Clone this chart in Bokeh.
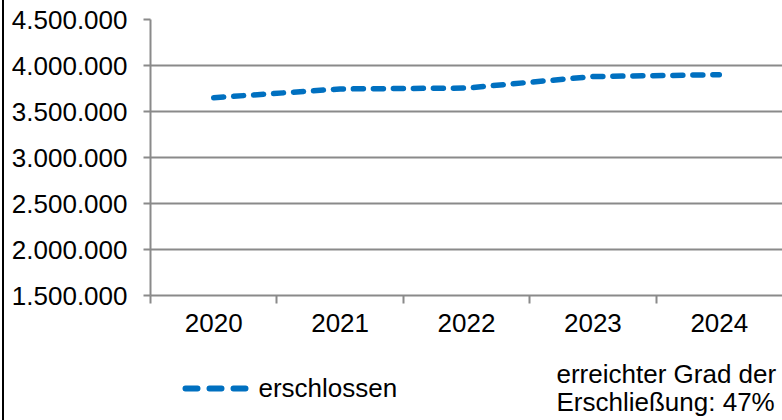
from bokeh.plotting import figure
from bokeh.models import (ColumnDataSource, LinearAxis, FixedTicker, Range1d, Grid, Div, Spacer)
from bokeh.layouts import row, column
from bokeh.core.properties import value
from bokeh.embed import file_html
from bokeh.resources import INLINE

years = ["2020", "2021", "2022", "2023", "2024"]
erschlossen = [3650000, 3745000, 3755000, 3880000, 3900000]
y_ticks = [1500000, 2000000, 2500000, 3000000, 3500000, 4000000, 4500000]
y_labels = ["1.500.000", "2.000.000", "2.500.000", "3.000.000", "3.500.000", "4.000.000", "4.500.000"]
series_name = "erschlossen"
note_lines = ["erreichter Grad der", "Erschließung: 47%"]

FONT = "Liberation Sans"
FS = "26px"
GRID = "#8a8a8a"
BLUE = "#0070C0"
W = 778
LEFT = 146

p = figure(width=W, height=350, x_range=years, y_range=Range1d(y_ticks[0], y_ticks[-1]),
           output_backend="svg", toolbar_location=None, x_axis_type=None, y_axis_type=None,
           min_border_left=LEFT, min_border_right=0, min_border_top=19, min_border_bottom=55)
p.outline_line_color = None
p.background_fill_color = "white"
p.border_fill_color = "white"

src = ColumnDataSource(dict(x=years, y=erschlossen))
r = p.line("x", "y", source=src, line_color=BLUE, line_width=5.5, line_dash="10 10", line_cap="round")

n = len(years)
xaxis = LinearAxis(ticker=FixedTicker(ticks=[i + 0.5 for i in range(n)], minor_ticks=list(range(n))))
xaxis.major_label_overrides = {i + 0.5: years[i] for i in range(n)}
xaxis.major_tick_out = 0
xaxis.major_tick_in = 0
xaxis.minor_tick_out = 8
xaxis.minor_tick_in = 0
xaxis.minor_tick_line_color = GRID
xaxis.minor_tick_line_width = 2
xaxis.axis_line_color = GRID
xaxis.axis_line_width = 2
xaxis.major_label_text_font = FONT
xaxis.major_label_text_font_size = FS
xaxis.major_label_text_color = "black"
xaxis.major_label_standoff = 10
p.add_layout(xaxis, "below")

yaxis = LinearAxis(ticker=FixedTicker(ticks=y_ticks, minor_ticks=[]))
yaxis.major_label_overrides = {t: l for t, l in zip(y_ticks, y_labels)}
yaxis.major_tick_out = 7
yaxis.major_tick_in = 0
yaxis.major_tick_line_color = GRID
yaxis.major_tick_line_width = 2
yaxis.axis_line_color = GRID
yaxis.axis_line_width = 2
yaxis.major_label_text_font = FONT
yaxis.major_label_text_font_size = FS
yaxis.major_label_text_color = "black"
yaxis.major_label_standoff = 16
p.add_layout(yaxis, "left")

p.add_layout(Grid(dimension=1, ticker=yaxis.ticker, grid_line_color=GRID, grid_line_width=2))

# bottom strip: legend and note (x in page pixels, frame aligned with the chart's frame)
q = figure(width=W, height=70, x_range=Range1d(150, 782), y_range=Range1d(70, 0),
           output_backend="svg", toolbar_location=None, x_axis_type=None, y_axis_type=None,
           min_border_left=LEFT, min_border_right=0, min_border_top=0, min_border_bottom=0)
q.outline_line_color = None
q.grid.visible = False
q.line([185, 245], [38, 38], line_color=BLUE, line_width=6, line_dash="12 12", line_cap="round")
q.text([258], [37], text=[series_name], text_font=value(FONT), text_font_size=FS,
       text_color="black", text_baseline="middle", text_align="left")
q.text([556, 556], [23, 51], text=note_lines, text_font=value(FONT), text_font_size=FS,
       text_color="black", text_baseline="middle", text_align="left")

bar = Div(width=2, height=420, margin=0, styles={"background-color": "black"})
layout = row(Spacer(width=2, height=420, margin=0), bar, column(p, q, spacing=0), spacing=0)

open("out.html", "w").write(file_html(layout, INLINE))
